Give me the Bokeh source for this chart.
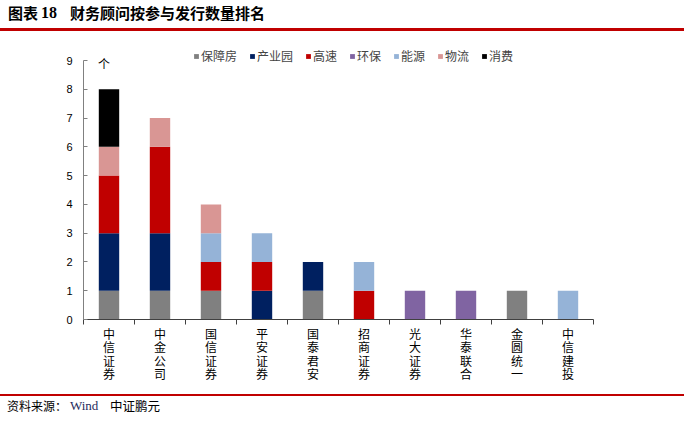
from bokeh.plotting import figure
from bokeh.layouts import column
from bokeh.models import FixedTicker, Label, Legend, LegendItem, ColumnDataSource, Range1d, Div
from bokeh.embed import file_html
from bokeh.resources import INLINE

firms = ["中信证券", "中金公司", "国信证券", "平安证券", "国泰君安",
         "招商证券", "光大证券", "华泰联合", "金圆统一", "中信建投"]
types = ["保障房", "产业园", "高速", "环保", "能源", "物流", "消费"]
baozhangfang = [1, 1, 1, 0, 1, 0, 0, 0, 1, 0]
chanyeyuan = [2, 2, 0, 1, 1, 0, 0, 0, 0, 0]
gaosu = [2, 3, 1, 1, 0, 1, 0, 0, 0, 0]
huanbao = [0, 0, 0, 0, 0, 0, 1, 1, 0, 0]
nengyuan = [0, 0, 1, 1, 0, 1, 0, 0, 0, 1]
wuliu = [1, 1, 1, 0, 0, 0, 0, 0, 0, 0]
xiaofei = [2, 0, 0, 0, 0, 0, 0, 0, 0, 0]
y_ticks = list(range(0, 10))
colors = ["#808080", "#002060", "#c00000", "#8064a2", "#95b3d7", "#d99694", "#000000"]

title_prefix = "图表"
title_no = "18"
title_text = "财务顾问按参与发行数量排名"
source_label = "资料来源："
source_names = ["Wind", "中证鹏元"]

W = 684
HEAD_H, MAIN_H, FOOT_H = 32, 354, 28
CJK = "Noto Sans CJK SC"
RED = "#c00000"

# ---------------- header (HTML) ----------------
head_html = (
    f'<div style="position:relative;width:{W}px;height:{HEAD_H}px;">'
    f'<span style="position:absolute;left:8px;top:4px;font-family:\'{CJK}\';font-weight:bold;'
    f'font-size:15px;line-height:18px;color:#000;white-space:nowrap;">{title_prefix}</span>'
    f'<span style="position:absolute;left:41px;top:4px;font-family:\'Liberation Serif\';font-weight:bold;'
    f'font-size:16px;line-height:18px;color:#000;white-space:nowrap;">{title_no}</span>'
    f'<span style="position:absolute;left:70px;top:4px;font-family:\'{CJK}\';font-weight:bold;'
    f'font-size:15px;line-height:18px;color:#000;white-space:nowrap;">{title_text}</span>'
    f'<div style="position:absolute;left:0;top:28px;width:{W}px;height:3px;background:{RED};"></div>'
    '</div>'
)
head = Div(text=head_html, width=W, height=HEAD_H, margin=0)

# ---------------- main chart ----------------
FL, FR = 83, 593                      # frame left/right (canvas px)
FT9, FB = 60 - HEAD_H, 319 - HEAD_H   # pixel rows of value 9 and value 0 inside main fig
LEG_TOP = 38 - HEAD_H                 # frame top (room for legend)
LEG_Y = 55 - HEAD_H                   # legend centre row
n = len(firms)
centers = [i + 0.5 for i in range(n)]
ymax = max(y_ticks)
ytop = ymax * (FB - LEG_TOP) / (FB - FT9)

src = ColumnDataSource(dict(x=centers, **{
    "保障房": baozhangfang, "产业园": chanyeyuan, "高速": gaosu, "环保": huanbao,
    "能源": nengyuan, "物流": wuliu, "消费": xiaofei}))

p = figure(width=W, height=MAIN_H, x_range=Range1d(0, n), y_range=Range1d(0, ytop),
           output_backend="svg", toolbar_location=None,
           min_border_left=FL, min_border_right=W - FR, min_border_top=LEG_TOP,
           min_border_bottom=MAIN_H - FB)
p.xgrid.visible = False
p.ygrid.visible = False
p.outline_line_color = None

rs = p.vbar_stack(types, x="x", width=0.4, color=colors, line_color=None, source=src)

ya = p.yaxis[0]
ya.ticker = FixedTicker(ticks=y_ticks)
ya.bounds = (0, ymax)
ya.major_label_text_font = "Liberation Sans"
ya.major_label_text_font_size = "11px"
ya.major_label_text_color = "black"
ya.axis_line_color = "#808080"
ya.major_tick_line_color = "#808080"
ya.major_tick_in = 4
ya.major_tick_out = 0
ya.minor_tick_line_color = None
ya.major_label_standoff = 11

xa = p.xaxis[0]
xa.ticker = FixedTicker(ticks=centers, minor_ticks=list(range(n + 1)))
xa.major_label_overrides = {c: "\n".join(f) for c, f in zip(centers, firms)}
xa.major_label_text_font = CJK
xa.major_label_text_font_size = "12px"
xa.major_label_text_line_height = 0.8
xa.major_label_text_color = "black"
xa.major_tick_in = 0
xa.major_tick_out = 0
xa.minor_tick_in = 0
xa.minor_tick_out = 5
xa.axis_line_color = "#404040"
xa.minor_tick_line_color = "#404040"
xa.major_label_standoff = 0

legend = Legend(items=[LegendItem(label=t, renderers=[r]) for t, r in zip(types, rs)],
                orientation="horizontal", location=(110, (FB - LEG_Y) - 9),
                label_text_font=CJK, label_text_font_size="12px",
                label_height=12, glyph_width=6, glyph_height=6, label_standoff=2, spacing=12,
                padding=0, margin=0, border_line_color=None, background_fill_alpha=0)
p.add_layout(legend)

p.add_layout(Label(x=0.4, y=ymax, text="个", text_align="center", text_baseline="top",
                   text_font=CJK, text_font_size="12px", y_offset=6, text_color="black"))

# ---------------- footer (HTML) ----------------
foot_html = (
    f'<div style="position:relative;width:{W}px;height:{FOOT_H}px;">'
    f'<div style="position:absolute;left:0;top:8px;width:{W}px;height:2px;background:{RED};"></div>'
    f'<span style="position:absolute;left:7px;top:12px;font-family:\'{CJK}\';font-size:12px;'
    f'line-height:15px;color:#000;white-space:nowrap;">{source_label}</span>'
    f'<span style="position:absolute;left:70px;top:12px;font-family:\'Liberation Serif\';font-size:13px;'
    f'line-height:15px;color:#1f2d5c;white-space:nowrap;">{source_names[0]}</span>'
    f'<span style="position:absolute;left:110px;top:12px;font-family:\'{CJK}\';font-size:12.5px;'
    f'line-height:15px;color:#000;white-space:nowrap;">{source_names[1]}</span>'
    '</div>'
)
foot = Div(text=foot_html, width=W, height=FOOT_H, margin=0)

layout = column(head, p, foot, spacing=0)
open("out.html", "w").write(file_html(layout, INLINE))
